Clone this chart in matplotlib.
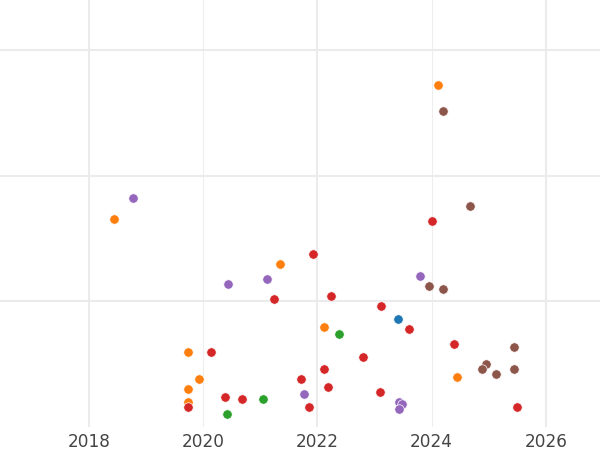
import matplotlib.pyplot as plt

# decimal year / value pairs, one group per colour
blue_x = [2023.42]
blue_y = [0.86]

orange_x = [2018.44, 2024.11, 2021.35, 2022.12, 2019.74, 2019.93, 2019.74, 2019.74, 2024.45]
orange_y = [1.66, 2.72, 1.30, 0.80, 0.60, 0.38, 0.30, 0.20, 0.40]

green_x = [2022.38, 2021.05, 2020.41]
green_y = [0.74, 0.22, 0.10]

red_x = [2024.00, 2021.93, 2021.24, 2022.24, 2023.12, 2023.61, 2020.14, 2022.79, 2024.40,
         2022.11, 2021.71, 2022.18, 2023.09, 2020.39, 2020.68, 2021.85, 2019.74, 2025.50]
red_y = [1.64, 1.38, 1.02, 1.04, 0.96, 0.78, 0.60, 0.56, 0.66,
         0.46, 0.38, 0.32, 0.28, 0.24, 0.22, 0.16, 0.157, 0.16]

purple_x = [2018.77, 2020.44, 2021.12, 2021.76, 2023.79, 2023.43, 2023.49, 2023.43]
purple_y = [1.82, 1.14, 1.18, 0.26, 1.20, 0.20, 0.18, 0.14]

brown_x = [2024.20, 2024.67, 2023.95, 2024.20, 2025.45, 2024.96, 2024.89, 2025.12, 2025.45]
brown_y = [2.52, 1.76, 1.12, 1.10, 0.64, 0.50, 0.46, 0.42, 0.46]

years = [2018, 2020, 2022, 2024, 2026]

groups = [
    (blue_x, blue_y, '#1f77b4'),
    (orange_x, orange_y, '#ff7f0e'),
    (green_x, green_y, '#2ca02c'),
    (red_x, red_y, '#d62728'),
    (purple_x, purple_y, '#9467bd'),
    (brown_x, brown_y, '#8c564b'),
]

fig = plt.figure(figsize=(6, 4.5), dpi=100)
ax = fig.add_axes([0, 23 / 450, 1, 427 / 450])

for xs, ys, c in groups:
    ax.scatter(xs, ys, s=46, color=c, edgecolors='white', linewidths=0.5, zorder=3)

ax.set_xlim(2016.44, 2026.95)
ax.set_ylim(0, 3.40)
ax.set_xticks(years)
ax.set_xticklabels([str(y) for y in years])
ax.set_yticks([1, 2, 3])
ax.set_yticklabels([])
ax.tick_params(length=0, pad=4, labelsize=12.2, labelcolor='#444444')
ax.grid(True, color='#ebebeb', linewidth=1.5, zorder=0)
ax.set_axisbelow(True)
for yr, tick in zip(years, ax.xaxis.get_major_ticks()):
    if yr in (2020, 2024):
        tick.gridline.set_linewidth(0.8)
        tick.gridline.set_color('#eeeeee')
for s in ax.spines.values():
    s.set_visible(False)

fig.savefig('out.png', dpi=100)
